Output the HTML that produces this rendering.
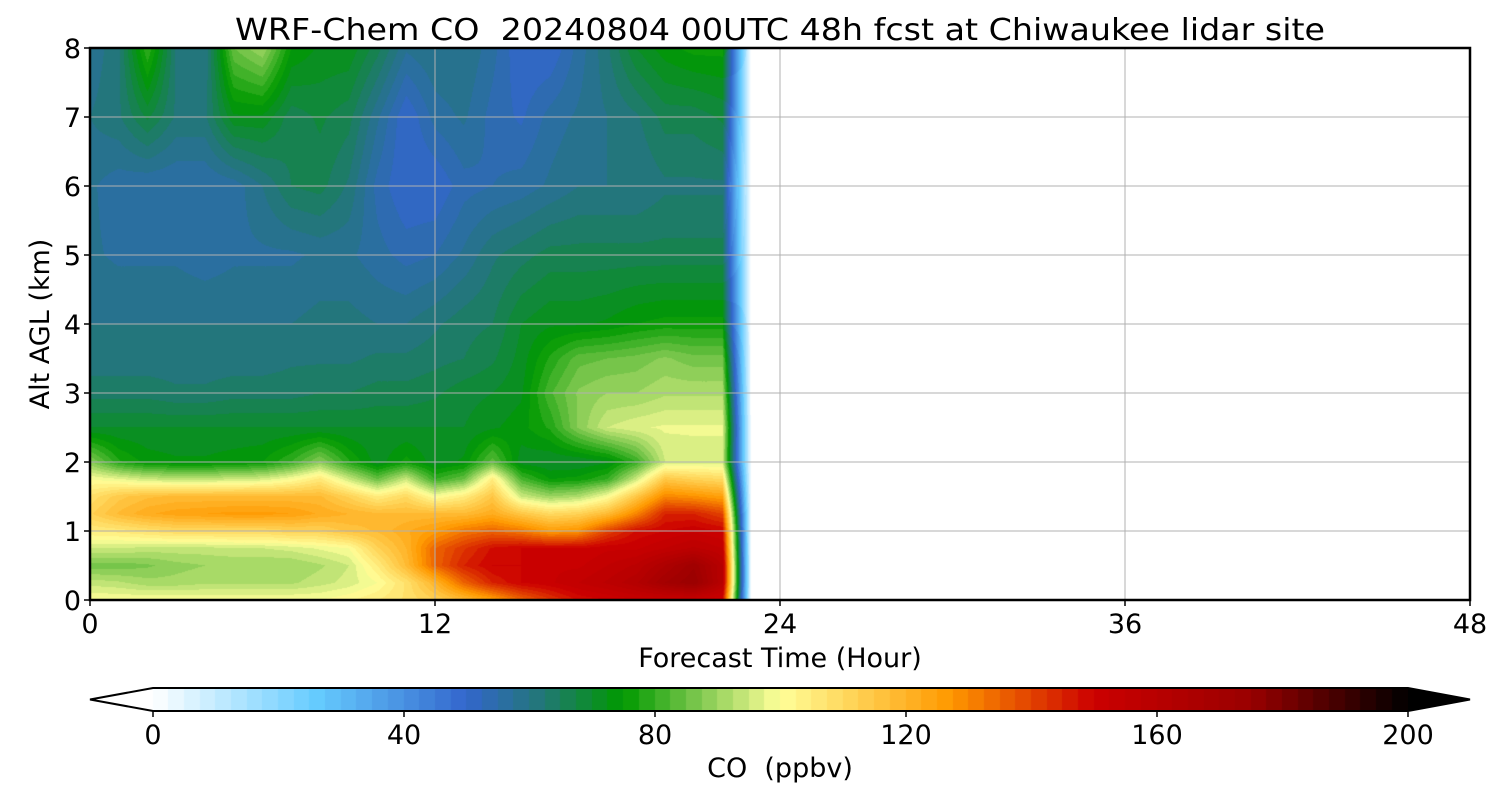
<!DOCTYPE html>
<html><head><meta charset="utf-8"><style>
body{margin:0;background:#fff;width:1500px;height:800px;overflow:hidden;position:relative;font-family:"DejaVu Sans","Liberation Sans",sans-serif}
canvas{position:absolute;left:0;top:0}
svg{position:absolute;left:0;top:0;font-family:"DejaVu Sans","Liberation Sans",sans-serif}
</style></head><body>
<canvas id="cv" width="1500" height="800"></canvas>
<svg id="sv" width="1500" height="800"></svg>
<script>
const hours=[0,1,2,3,4,5,6,7,8,9,10,11,12,13,14,15,16,17,18,19,20,21,22,23];
const levels=[0,0.25,0.5,0.75,1,1.25,1.5,1.75,2,2.5,3,3.5,4,5,6,7,8];
const r000=[100,100,100,100,100,100,100,100,100,102,105,108,112,118,125,135,142,148,150,152,152,152,150,0];
const r025=[94,93,91,91,92,92,92,92,94,96,100,108,120,135,145,150,152,155,158,162,170,175,160,0];
const r050=[86,86,87,89,90,90,90,90,92,95,105,118,135,145,150,150,152,152,155,158,165,172,160,0];
const r075=[95,95,94,94,94,95,95,96,98,100,112,120,135,142,148,150,150,150,152,152,155,158,155,0];
const r100=[105,106,108,110,110,110,110,112,112,116,118,122,126,132,135,132,126,128,140,148,150,152,150,0];
const r125=[112,118,122,124,125,126,126,125,122,120,118,118,118,118,122,115,110,112,118,130,145,145,140,0];
const r150=[108,114,117,118,118,118,118,118,118,112,105,110,100,105,115,95,90,92,100,115,130,128,125,0];
const r175=[100,98,95,94,94,95,96,100,106,95,85,95,80,85,105,82,75,76,80,95,115,112,110,0];
const r200=[88,78,74,73,73,74,75,80,88,78,71,76,71,73,84,71,70,70,72,80,95,96,96,0];
const r250=[70,70,70,70,70,70,70,70,70,70,70,70,70,70,72,74,78,88,95,97,98,98,98,0];
const r300=[64,64,64,63,63,64,64,64,65,65,66,66,67,69,70,72,82,88,90,90,92,92,92,0];
const r350=[61,61,61,61,61,61,61,62,62,62,63,63,64,65,67,71,78,84,85,86,88,86,86,0];
const r400=[60,60,60,60,60,60,60,60,61,61,60,60,62,64,65,70,72,72,73,75,76,76,76,0];
const r500=[58,57,57,57,56,57,57,57,58,58,56,54,55,58,62,64,66,66,66,66,66,66,66,0];
const r600=[58,56,55,55,55,56,60,65,66,62,54,50,50,54,55,56,58,60,60,60,62,62,62,0];
const r700=[60,62,68,62,62,72,72,66,68,66,58,50,56,58,54,52,56,58,60,62,66,66,68,0];
const r800=[58,62,80,62,60,85,90,75,72,72,66,58,60,60,56,50,50,56,62,70,74,76,76,0];
const grid=[r000,r025,r050,r075,r100,r125,r150,r175,r200,r250,r300,r350,r400,r500,r600,r700,r800];
const xTicks=[0,12,24,36,48];
const yTicks=[0,1,2,3,4,5,6,7,8];
const cbTicks=[0,40,80,120,160,200];

const L=90,R=1470,T=48,B=600,xMax=48,yMax=8;
const xs=h=>L+(R-L)*h/xMax, ys=k=>B-(B-T)*k/yMax;
const anchors=[[0,[255,255,255]],[26,[102,204,255]],[50,[51,102,204]],[62,[34,119,119]],[75,[0,153,0]],[88,[136,204,85]],[100,[255,255,153]],[127,[255,153,0]],[150,[204,0,0]],[175,[153,0,0]],[200,[0,0,0]]];
function cmap(v){v=Math.max(0,Math.min(200,v));for(let i=1;i<anchors.length;i++){if(v<=anchors[i][0]){const a=anchors[i-1],b=anchors[i];const t=(v-a[0])/(b[0]-a[0]);return a[1].map((c,j)=>Math.round(c+(b[1][j]-c)*t));}}return [0,0,0];}
const STEP=2.5;
function qcol(v){const lv=Math.floor(v/STEP)*STEP+STEP/2;return cmap(lv);}
function val(h,k){
  let i=0;while(i<hours.length-2&&hours[i+1]<h)i++;
  let j=0;while(j<levels.length-2&&levels[j+1]<k)j++;
  const tx=Math.max(0,Math.min(1,(h-hours[i])/(hours[i+1]-hours[i])));
  const ty=Math.max(0,Math.min(1,(k-levels[j])/(levels[j+1]-levels[j])));
  const a=grid[j][i],b=grid[j][i+1],c=grid[j+1][i],d=grid[j+1][i+1];
  return a*(1-tx)*(1-ty)+b*tx*(1-ty)+c*(1-tx)*ty+d*tx*ty;
}
const cv=document.getElementById('cv'),ctx=cv.getContext('2d');
const x0=Math.round(xs(hours[0])),x1=Math.round(xs(hours[hours.length-1]));
const img=ctx.createImageData(x1-x0,B-T);
for(let py=0;py<B-T;py++){const k=(B-(T+py+0.5))*yMax/(B-T);
  for(let px=0;px<x1-x0;px++){const h=(x0+px+0.5-L)*xMax/(R-L);
    const c=qcol(val(h,k));const o=(py*(x1-x0)+px)*4;img.data[o]=c[0];img.data[o+1]=c[1];img.data[o+2]=c[2];img.data[o+3]=255;}}
ctx.putImageData(img,x0,T);
const CL=153,CR=1408,CT=688,CB=711;
for(let v=0;v<200;v+=STEP){const c=qcol(v);ctx.fillStyle=`rgb(${c})`;const a=CL+(CR-CL)*v/200,b=CL+(CR-CL)*(v+STEP)/200;ctx.fillRect(Math.floor(a),CT,Math.ceil(b-a)+1,CB-CT);}

const NS='http://www.w3.org/2000/svg',sv=document.getElementById('sv');
function mk(tag,attrs,text){const e=document.createElementNS(NS,tag);for(const k in attrs)e.setAttribute(k,attrs[k]);if(text!==undefined)e.textContent=text;sv.appendChild(e);return e;}
xTicks.forEach(t=>{if(t>0&&t<48){const e=mk('line',{x1:xs(t),x2:xs(t),y1:T,y2:B,stroke:'#b0b0b0','stroke-width':1});}
  const m=mk('line',{x1:xs(t),x2:xs(t),y1:B,y2:B+6,stroke:'#000','stroke-width':1.5});
  const l=mk('text',{x:xs(t),y:633,'font-size':27,'text-anchor':'middle'},String(t));});
yTicks.forEach(t=>{if(t>0&&t<8){const e=mk('line',{x1:L,x2:R,y1:ys(t),y2:ys(t),stroke:'#b0b0b0','stroke-width':1});}
  const m=mk('line',{x1:L-6,x2:L,y1:ys(t),y2:ys(t),stroke:'#000','stroke-width':1.5});
  const l=mk('text',{x:L-9,y:ys(t)+10,'font-size':27,'text-anchor':'end'},String(t));});
const fr=mk('rect',{x:L,y:T,width:R-L,height:B-T,fill:'none',stroke:'#000','stroke-width':2.5});

const cb=mk('path',{d:`M${CL},${CT} L${CR},${CT} L1470,${(CT+CB)/2} L${CR},${CB} L${CL},${CB} L90,${(CT+CB)/2} Z`,fill:'none',stroke:'#000','stroke-width':2});

const tri=mk('path',{d:`M${CR},${CT} L1470,${(CT+CB)/2} L${CR},${CB} Z`,fill:'#000'});

cbTicks.forEach(t=>{const x=CL+(CR-CL)*t/200;const m=mk('line',{x1:x,x2:x,y1:CB,y2:CB+6,stroke:'#000','stroke-width':1.5});
  const l=mk('text',{x:x,y:744,'font-size':27,'text-anchor':'middle'},String(t));});
</script>
<svg width="1500" height="800" style="position:absolute;left:0;top:0">
<text x="780" y="40" font-size="30" text-anchor="middle" xml:space="preserve" textLength="1090" lengthAdjust="spacingAndGlyphs">WRF-Chem CO  20240804 00UTC 48h fcst at Chiwaukee lidar site</text>
<text x="780" y="667" font-size="27" text-anchor="middle">Forecast Time (Hour)</text>
<text transform="translate(49,324) rotate(-90)" font-size="27" text-anchor="middle">Alt AGL (km)</text>
<text x="780" y="777" font-size="27" text-anchor="middle" xml:space="preserve">CO  (ppbv)</text>
</svg>
</body></html>
